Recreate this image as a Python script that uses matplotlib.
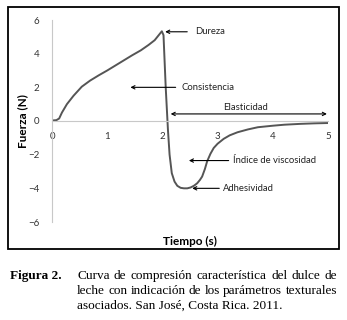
import numpy as np
import matplotlib.pyplot as plt
from matplotlib.patches import Rectangle

# Curva de compresión del dulce de leche
tiempo = [0.0, 0.08, 0.13, 0.18, 0.27, 0.39, 0.54, 0.69, 0.85, 1.00, 1.15,
          1.30, 1.45, 1.61, 1.75, 1.86, 1.99, 2.02, 2.06, 2.10, 2.13, 2.17,
          2.22, 2.27, 2.33, 2.39, 2.45, 2.51, 2.57, 2.63, 2.68, 2.72, 2.77,
          2.81, 2.87, 2.93, 3.00, 3.11, 3.22, 3.36, 3.55, 3.73, 4.00, 4.21,
          4.50, 4.75, 5.00]
fuerza = [0.03, 0.05, 0.15, 0.50, 1.00, 1.50, 2.04, 2.40, 2.72, 3.00, 3.30,
          3.60, 3.90, 4.20, 4.52, 4.80, 5.33, 5.10, 2.00, -0.50, -2.00, -3.10,
          -3.60, -3.85, -3.97, -4.00, -4.00, -3.95, -3.85, -3.70, -3.50, -3.30,
          -2.85, -2.40, -1.95, -1.60, -1.35, -1.06, -0.85, -0.67, -0.50, -0.37,
          -0.28, -0.22, -0.17, -0.14, -0.12]

xticks = [0, 1, 2, 3, 4, 5]
yticks = [-6, -4, -2, 0, 2, 4, 6]

W, H = 347, 320
fig = plt.figure(figsize=(W / 100, H / 100), dpi=100)
sans = ['Lato', 'DejaVu Sans']
serif = ['Liberation Serif', 'DejaVu Serif']

# marco del gráfico
fig.patches.append(Rectangle((8 / W, 1 - 249 / H), 331 / W, 242 / H,
                             transform=fig.transFigure, fill=False,
                             edgecolor='black', linewidth=1.3))

ax = fig.add_axes([52 / W, 1 - 222 / H, 276 / W, 202 / H])
ax.set_xlim(0, 5)
ax.set_ylim(-6, 6)
ax.patch.set_alpha(0)

for s in ['top', 'right']:
    ax.spines[s].set_visible(False)
ax.spines['bottom'].set_position(('data', 0))
for s in ['bottom', 'left']:
    ax.spines[s].set_color('#c8c8c8')
    ax.spines[s].set_linewidth(0.8)

ax.set_xticks(xticks)
ax.set_yticks(yticks)
ax.tick_params(length=0, labelsize=7, labelcolor='#333333')
ax.tick_params(axis='x', pad=8)
ax.tick_params(axis='y', pad=9)
for lab in ax.get_xticklabels() + ax.get_yticklabels():
    lab.set_family(sans)

ax.plot(tiempo, fuerza, color='#555555', linewidth=1.4)

ax.set_xlabel('Tiempo (s)', fontsize=8.5, fontweight='bold', family=sans,
              labelpad=0)
ax.xaxis.set_label_coords(0.5, -0.07)
ax.set_ylabel('Fuerza (N)', fontsize=8.5, fontweight='bold', family=sans)
ax.yaxis.set_label_coords(-0.085, 0.5)

arrow = dict(arrowstyle='->', color='black', linewidth=0.8,
             shrinkA=0, shrinkB=0, mutation_scale=6)
txt = dict(fontsize=6.8, family=sans, va='center', ha='left', color='#222222')

ax.annotate('', xy=(2.05, 5.3), xytext=(2.45, 5.3), arrowprops=arrow)
ax.text(2.6, 5.3, 'Dureza', **txt)

ax.annotate('', xy=(1.42, 2.0), xytext=(2.24, 2.0), arrowprops=arrow)
ax.text(2.35, 2.0, 'Consistencia', **txt)

ax.annotate('', xy=(2.15, 0.42), xytext=(4.98, 0.42),
            arrowprops=dict(arrow, arrowstyle='<->'))
ax.text(3.5, 0.82, 'Elasticidad', **dict(txt, ha='center'))

ax.annotate('', xy=(2.48, -2.35), xytext=(3.2, -2.35), arrowprops=arrow)
ax.text(3.27, -2.35, 'Índice de viscosidad', **txt)

ax.annotate('', xy=(2.54, -4.0), xytext=(3.03, -4.0), arrowprops=arrow)
ax.text(3.09, -4.0, 'Adhesividad', **txt)

# leyenda de la figura (texto justificado)
cap_size = 9.5
fig.text(10 / W, 1 - 276 / H, 'Figura 2.', fontsize=cap_size,
         fontweight='bold', family=serif, va='center', ha='left')
caption = ['Curva de compresión característica del dulce de',
           'leche con indicación de los parámetros texturales',
           'asociados. San José, Costa Rica. 2011.']
renderer = fig.canvas.get_renderer()
x0, x1 = 77, 337
for i, line in enumerate(caption):
    y = 1 - (276 + 15 * i) / H
    if i == len(caption) - 1:
        fig.text(x0 / W, y, line, fontsize=cap_size, family=serif,
                 va='center', ha='left')
        continue
    words = line.split()
    items = [fig.text(0, y, w, fontsize=cap_size, family=serif,
                      va='center', ha='left') for w in words]
    widths = [t.get_window_extent(renderer).width for t in items]
    gap = max((x1 - x0 - sum(widths)) / (len(words) - 1), 2.6)
    x = x0
    for t, w in zip(items, widths):
        t.set_x(x / W)
        x += w + gap

fig.savefig('out.png', dpi=100)
